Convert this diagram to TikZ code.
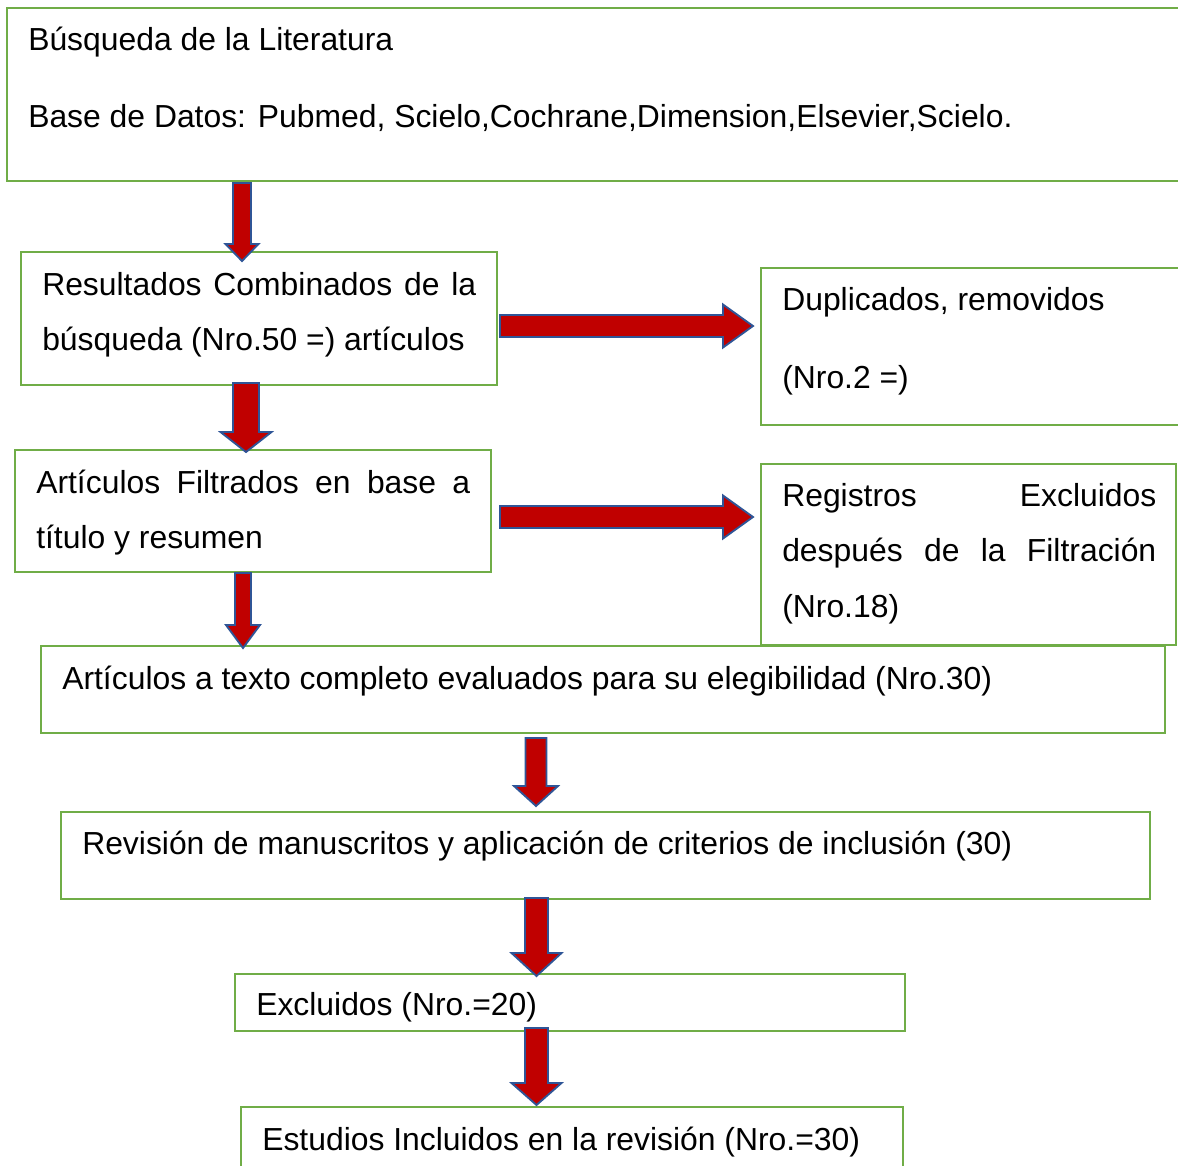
\documentclass[tikz,border=0pt]{standalone}
\usepackage{fontspec}
\setmainfont{Liberation Sans}
\definecolor{boxgreen}{HTML}{70AD47}
\definecolor{arrred}{HTML}{C00000}
\definecolor{arrblue}{HTML}{2F5597}
\tikzset{
  box/.style={draw=boxgreen, line width=2.2pt},
  txt/.style={inner sep=0pt, anchor=base west, font=\fontsize{23.9pt}{28pt}\selectfont},
  blkarrow/.style={fill=arrred, draw=arrblue, line width=1.4pt, line join=miter},
}
% down arrow: cx, ytop, yheadtop, ytip, shaft half width, head half width
\newcommand\dnarrow[6]{\draw[blkarrow] ({#1-#5},#2) -- ({#1+#5},#2) -- ({#1+#5},#3) -- ({#1+#6},#3) -- (#1,#4) -- ({#1-#6},#3) -- ({#1-#5},#3) -- cycle;}
% right arrow: cy, xstart, xheadstart, xtip, shaft half width, head half width
\newcommand\rtarrow[6]{\draw[blkarrow] (#2,{#1-#5}) -- (#3,{#1-#5}) -- (#3,{#1-#6}) -- (#4,#1) -- (#3,{#1+#6}) -- (#3,{#1+#5}) -- (#2,{#1+#5}) -- cycle;}
\begin{document}
\begin{tikzpicture}[x=0.75pt,y=-0.75pt]
\useasboundingbox (0,0) rectangle (1178,1165);
\clip (0,0) rectangle (1178,1165);
\fill[white] (0,0) rectangle (1178,1165);
% boxes
\draw[box] (7,8) coordinate (b1nw) rectangle (1200,181) coordinate (b1se);
\draw[box] (21,252) coordinate (b2nw) rectangle (497,385) coordinate (b2se);
\draw[box] (761,268) coordinate (b3nw) rectangle (1200,425) coordinate (b3se);
\draw[box] (15,450) coordinate (b4nw) rectangle (491,572) coordinate (b4se);
\draw[box] (761,464) coordinate (b5nw) rectangle (1176,645) coordinate (b5se);
\draw[box] (41,646) coordinate (b6nw) rectangle (1165,733) coordinate (b6se);
\draw[box] (61,812) coordinate (b7nw) rectangle (1150,899) coordinate (b7se);
\draw[box] (235,974) coordinate (b8nw) rectangle (905,1031) coordinate (b8se);
\draw[box] (241,1107) coordinate (b9nw) rectangle (903,1200) coordinate (b9se);
% texts
\node[txt] (t1a) at (28,50) {Búsqueda de la Literatura};
\node[txt] (t1b) at (28,127) {Base de Datos: Pubmed, Scielo,Cochrane,Dimension,Elsevier,Scielo.};
\node[txt] (t2a) at (42,295) {\hbox to 325.5pt{Resultados\hfill Combinados\hfill de\hfill la}};
\node[txt] (t2b) at (42,350) {búsqueda (Nro.50 =) artículos};
\node[txt] (t3a) at (782,310) {Duplicados, removidos};
\node[txt] (t3b) at (782,388) {(Nro.2 =)};
\node[txt] (t4a) at (36,493) {\hbox to 325.5pt{Artículos\hfill Filtrados\hfill en\hfill base\hfill a}};
\node[txt] (t4b) at (36,548) {título y resumen};
\node[txt] (t5a) at (782,506) {\hbox to 280.5pt{Registros\hfill Excluidos}};
\node[txt] (t5b) at (782,561) {\hbox to 280.5pt{después\hfill de\hfill la\hfill Filtración}};
\node[txt] (t5c) at (782,617) {(Nro.18)};
\node[txt] (t6) at (62,689) {Artículos a texto completo evaluados para su elegibilidad (Nro.30)};
\node[txt] (t7) at (82,854) {Revisión de manuscritos y aplicación de criterios de inclusión (30)};
\node[txt] (t8) at (256,1015) {Excluidos (Nro.=20)};
\node[txt] (t9) at (262,1150) {Estudios Incluidos en la revisión (Nro.=30)};
% arrows
\dnarrow{242}{183}{244}{261}{9}{16.5}
\dnarrow{246}{383}{432}{452}{13}{25.5}
\rtarrow{326}{500}{723}{753}{11}{21.5}
\rtarrow{517}{500}{723}{753}{11}{21.5}
\dnarrow{243}{573}{625}{648}{8}{17}
\dnarrow{536}{738}{786}{806}{10.5}{22}
\dnarrow{536.5}{898}{953}{976}{11.5}{25}
\dnarrow{536.5}{1028}{1083}{1105}{11.5}{25}
\end{tikzpicture}
\end{document}
